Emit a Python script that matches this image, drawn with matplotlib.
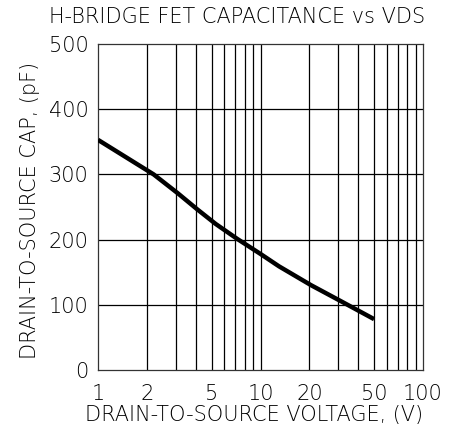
import matplotlib
matplotlib.use("Agg")
import matplotlib.pyplot as plt
from matplotlib.ticker import FixedLocator, NullFormatter

# Data
vds = [1, 2.2, 3.1, 4.1, 5.3, 7.2, 10, 13, 20.5, 31, 50]
cap = [353, 300, 271, 246, 224, 201, 178, 159, 130, 106, 78]

x_ticks = [1, 2, 5, 10, 20, 50, 100]
x_ticklabels = ["1", "2", "5", "10", "20", "50", "100"]
x_grid = [2, 3, 4, 5, 6, 7, 8, 9, 10, 20, 30, 40, 50, 60, 70, 80, 90]
y_ticks = [0, 100, 200, 300, 400, 500]

plt.rcParams['font.family'] = ['DejaVu Sans']
fs = 15
fw = 'light'

fig = plt.figure(figsize=(4.59, 4.37), dpi=100)
ax = fig.add_axes([98/459, 67/437, 325/459, 326/437])

ax.set_xscale('log')
ax.set_xlim(1, 100)
ax.set_ylim(0, 500)

for g in x_grid:
    ax.axvline(g, color='black', lw=0.9, zorder=1)
for g in y_ticks[1:-1]:
    ax.axhline(g, color='black', lw=0.9, zorder=1)

ax.plot(vds, cap, color='black', lw=3.2, solid_capstyle='butt', zorder=3)

ax.xaxis.set_major_locator(FixedLocator(x_ticks))
ax.set_xticklabels(x_ticklabels)
ax.xaxis.set_minor_locator(FixedLocator([]))
ax.xaxis.set_minor_formatter(NullFormatter())
ax.set_yticks(y_ticks)
ax.tick_params(axis='both', length=0, labelsize=fs)
ax.tick_params(axis='x', pad=10)
ax.tick_params(axis='y', pad=7)
for lab in ax.get_xticklabels() + ax.get_yticklabels():
    lab.set_fontweight(fw)

for s in ax.spines.values():
    s.set_color('#333333')
    s.set_linewidth(0.9)

fig.text(237/459, 1 - 17/437, "H-BRIDGE FET CAPACITANCE vs VDS", ha='center', va='center', fontsize=fs, fontweight=fw)
fig.text(254/459, 1 - 415/437, "DRAIN-TO-SOURCE VOLTAGE, (V)", ha='center', va='center', fontsize=fs, fontweight=fw)
fig.text(30/459, 1 - 210/437, "DRAIN-TO-SOURCE CAP, (pF)", ha='center', va='center', fontsize=fs, fontweight=fw, rotation=90)

fig.savefig("out.png", dpi=100)
